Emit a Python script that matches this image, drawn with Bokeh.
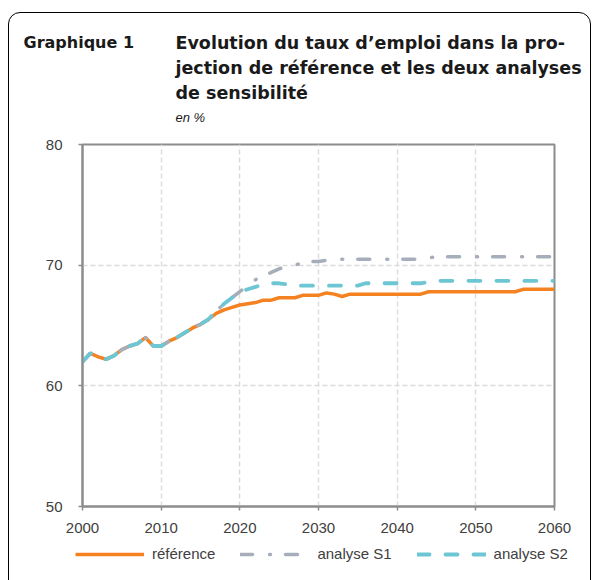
from bokeh.plotting import figure
from bokeh.models import (Label, FixedTicker, Range1d, Legend, LegendItem,
                          InlineStyleSheet)
from bokeh.layouts import column
from bokeh.embed import file_html
from bokeh.resources import INLINE

years = list(range(2000, 2061))

reference = [62.0, 62.7, 62.4, 62.2, 62.5, 63.0, 63.3, 63.5, 64.0, 63.3,
             63.3, 63.7, 64.0, 64.4, 64.8, 65.1, 65.5, 66.0, 66.3, 66.5,
             66.7, 66.8, 66.9, 67.1, 67.1, 67.3, 67.3, 67.3, 67.5, 67.5,
             67.5, 67.7, 67.6, 67.4, 67.6, 67.6, 67.6, 67.6, 67.6, 67.6,
             67.6, 67.6, 67.6, 67.6, 67.8, 67.8, 67.8, 67.8, 67.8, 67.8,
             67.8, 67.8, 67.8, 67.8, 67.8, 67.8, 68.0, 68.0, 68.0, 68.0,
             68.0]

analyse_s1 = [62.0, 62.7, 62.4, 62.2, 62.5, 63.0, 63.3, 63.5, 64.0, 63.3,
              63.3, 63.7, 64.0, 64.4, 64.8, 65.1, 65.5, 66.2, 66.8, 67.3,
              67.8, 68.3, 68.8, 69.1, 69.4, 69.7, 69.9, 70.0, 70.2, 70.3,
              70.3, 70.4, 70.5, 70.5, 70.5, 70.5, 70.5, 70.5, 70.5, 70.5,
              70.5, 70.5, 70.5, 70.5, 70.6, 70.7, 70.7, 70.7, 70.7, 70.7,
              70.7, 70.7, 70.7, 70.7, 70.7, 70.7, 70.7, 70.7, 70.7, 70.7,
              70.7]

analyse_s2 = [62.0, 62.7, 62.4, 62.2, 62.5, 63.0, 63.3, 63.5, 64.0, 63.3,
              63.3, 63.7, 64.0, 64.4, 64.8, 65.1, 65.5, 66.2, 66.8, 67.3,
              67.8, 68.0, 68.2, 68.4, 68.5, 68.5, 68.4, 68.3, 68.3, 68.3,
              68.3, 68.3, 68.3, 68.3, 68.3, 68.3, 68.5, 68.5, 68.5, 68.5,
              68.5, 68.5, 68.5, 68.5, 68.6, 68.7, 68.7, 68.7, 68.7, 68.7,
              68.7, 68.7, 68.7, 68.7, 68.7, 68.7, 68.7, 68.7, 68.7, 68.7,
              68.7]

x_ticks = [2000, 2010, 2020, 2030, 2040, 2050, 2060]
y_ticks = [50, 60, 70, 80]

series_names = ["référence", "analyse S1", "analyse S2"]
title_label = "Graphique 1"
title_lines = ["Evolution du taux d\u2019emploi dans la pro-",
               "jection de référence et les deux analyses",
               "de sensibilité"]
unit_text = "en %"

ORANGE = "#F58220"
GRAY = "#A6AEBB"
TEAL = "#6DC6D3"
AXIS = "#8C8C8C"
GRID = "#DCDCDC"
TXT = "#404040"
TITLE_FONT = "DejaVu Sans"

STYLES = [
    dict(line_color=ORANGE, line_width=3.5),
    dict(line_color=GRAY, line_width=3.5, line_cap="round", line_dash="12 17 1 15"),
    dict(line_color=TEAL, line_width=3.8, line_cap="round", line_dash="12 16"),
]
SERIES = [reference, analyse_s1, analyse_s2]


def blank(fig):
    fig.frame_align = False
    fig.grid.visible = False
    fig.outline_line_color = None
    fig.background_fill_color = "white"
    fig.border_fill_color = "white"


# ---------------- title block ----------------
TH = 130
tf = figure(width=598, height=TH, output_backend="svg", toolbar_location=None,
            title=None, x_range=Range1d(0, 598), y_range=Range1d(TH, 0),
            x_axis_location=None, y_axis_location=None,
            min_border_left=0, min_border_right=0, min_border_top=0,
            min_border_bottom=0)
blank(tf)

tf.add_layout(Label(x=23, y=42, text=title_label, text_font=TITLE_FONT,
                    text_font_style="bold", text_font_size="16px",
                    text_color="#1a1a1a", text_baseline="middle"))
for i, line in enumerate(title_lines):
    tf.add_layout(Label(x=175, y=42 + 25 * i, text=line, text_font=TITLE_FONT,
                        text_font_style="bold", text_font_size="17.5px",
                        text_color="#1a1a1a", text_baseline="middle"))
tf.add_layout(Label(x=175, y=117, text=unit_text, text_font="Liberation Sans",
                    text_font_style="italic", text_font_size="13px",
                    text_color="#1a1a1a", text_baseline="middle"))

# ---------------- main chart ----------------
p = figure(frame_width=472, frame_height=362, output_backend="svg",
           toolbar_location=None, title=None,
           x_range=Range1d(2000, 2060), y_range=Range1d(50, 80),
           min_border_left=82, min_border_right=44, min_border_top=144 - TH,
           min_border_bottom=36)
p.frame_align = False
p.background_fill_color = "white"
p.border_fill_color = "white"
p.outline_line_color = AXIS
p.outline_line_width = 2

for vals, st in zip(SERIES, STYLES):
    p.line(years, vals, **st)

for ax in (p.xaxis[0], p.yaxis[0]):
    ax.axis_line_color = AXIS
    ax.axis_line_width = 2
    ax.major_tick_line_color = AXIS
    ax.major_tick_line_width = 1.5
    ax.major_tick_out = 4
    ax.major_tick_in = 0
    ax.minor_tick_line_color = None
    ax.major_label_text_font = "Liberation Sans"
    ax.major_label_text_font_size = "15px"
    ax.major_label_text_color = TXT

p.xaxis.ticker = FixedTicker(ticks=x_ticks)
p.yaxis.ticker = FixedTicker(ticks=y_ticks)
p.xaxis.major_label_standoff = 12
p.yaxis.major_label_standoff = 16

p.xgrid.ticker = FixedTicker(ticks=x_ticks)
p.ygrid.ticker = FixedTicker(ticks=y_ticks)
for g in (p.xgrid[0], p.ygrid[0]):
    g.grid_line_color = GRID
    g.grid_line_width = 1.5
    g.grid_line_dash = "5 3"

# ---------------- legend strip ----------------
LH = 580 - TH - (144 - TH) - 362 - 36
lf = figure(width=598, height=LH, output_backend="svg", toolbar_location=None,
            title=None, x_range=Range1d(0, 1), y_range=Range1d(0, 1),
            x_axis_location=None, y_axis_location=None,
            min_border_left=0, min_border_right=0, min_border_top=0,
            min_border_bottom=0)
blank(lf)
items = []
for name, vals, st in zip(series_names, SERIES, STYLES):
    r = lf.line(years, vals, **st)   # out of this strip's view: only feeds the legend swatch
    items.append(LegendItem(label=name, renderers=[r]))

lg = Legend(items=items, orientation="horizontal", location=(75, LH - 12 - 8),
            margin=0, padding=0, spacing=25, glyph_width=69, glyph_height=16,
            label_height=16, label_standoff=8, label_text_font="Liberation Sans",
            label_text_font_size="15px", label_text_color=TXT,
            border_line_color=None, background_fill_alpha=0)
lf.add_layout(lg)

box_css = InlineStyleSheet(css="""
:host { position: relative; overflow: hidden; }
:host::after {
  content: ''; position: absolute; left: 8px; top: 12px;
  width: 583px; height: 600px; box-sizing: border-box;
  border: 1px solid #000; border-radius: 12px; pointer-events: none;
}
""")
layout = column(tf, p, lf, spacing=0, stylesheets=[box_css])

open("out.html", "w").write(file_html(layout, INLINE))
